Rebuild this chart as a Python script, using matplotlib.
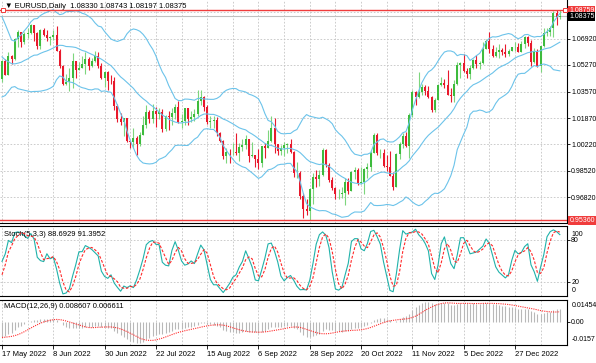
import numpy as np
import pandas as pd
import matplotlib
matplotlib.use('Agg')
import matplotlib.pyplot as plt

plt.rcParams['font.family'] = ['Liberation Sans', 'DejaVu Sans']
plt.rcParams['font.size'] = 5.5

# EURUSD daily, 17 May 2022 .. 16 Jan 2023
# bars before the first visible one, only used to warm up the indicators
warm_close = [1.1016, 1.1031, 1.1008, 1.0997, 1.0984, 1.0984, 1.1086, 1.1159, 1.1067,
              1.1046, 1.0972, 1.0903, 1.0902, 1.0877, 1.0876, 1.0885, 1.0828, 1.0889, 1.0826,
              1.0808, 1.0780, 1.0787, 1.0852, 1.0837, 1.0797, 1.0716, 1.0640, 1.0556, 1.0499,
              1.0545, 1.0507, 1.0525, 1.0620, 1.0541, 1.0550, 1.0560, 1.0530, 1.0512, 1.0379,
              1.0411, 1.0434]
warm_high = [1.0580, 1.0642, 1.0641, 1.0593, 1.0600, 1.0580, 1.0577, 1.0514, 1.0435, 1.0446]
warm_low = [1.0492, 1.0505, 1.0493, 1.0483, 1.0490, 1.0520, 1.0500, 1.0354, 1.0349, 1.0389]

open_ = [1.0437, 1.0553, 1.0464, 1.0586, 1.0562, 1.0690, 1.0734, 1.0676, 1.0726, 1.0733,
         1.0779, 1.0733, 1.0647, 1.0751, 1.0719, 1.0697, 1.0705, 1.0716, 1.0616, 1.0518,
         1.0408, 1.0420, 1.0446, 1.0549, 1.0494, 1.0510, 1.0533, 1.0567, 1.0522, 1.0554,
         1.0582, 1.0518, 1.0443, 1.0484, 1.0425, 1.0424, 1.0265, 1.0182, 1.0161, 1.0186,
         1.0038, 1.0037, 1.0063, 1.0019, 1.0080, 1.0143, 1.0225, 1.0180, 1.0230, 1.0212,
         1.0225, 1.0120, 1.0200, 1.0196, 1.0220, 1.0260, 1.0163, 1.0168, 1.0250, 1.0180,
         1.0196, 1.0212, 1.0297, 1.0322, 1.0260, 1.0160, 1.0170, 1.0177, 1.0090, 1.0038,
         0.9943, 0.9970, 0.9969, 0.9972, 0.9964, 1.0002, 1.0017, 1.0055, 0.9945, 0.9953,
         0.9925, 0.9900, 1.0007, 0.9997, 1.0042, 1.0121, 1.0019, 0.9980, 0.9999, 1.0016,
         1.0025, 0.9970, 0.9836, 0.9837, 0.9690, 0.9607, 0.9592, 0.9736, 0.9814, 0.9801,
         0.9827, 0.9986, 0.9889, 0.9792, 0.9739, 0.9703, 0.9705, 0.9707, 0.9777, 0.9722,
         0.9843, 0.9853, 0.9776, 0.9781, 0.9862, 0.9876, 0.9965, 1.0078, 0.9963, 0.9966,
         0.9882, 0.9878, 0.9820, 0.9749, 0.9960, 1.0020, 1.0074, 1.0010, 1.0209, 1.0355,
         1.0324, 1.0351, 1.0383, 1.0362, 1.0325, 1.0242, 1.0304, 1.0397, 1.0409, 1.0397,
         1.0337, 1.0331, 1.0406, 1.0523, 1.0537, 1.0489, 1.0468, 1.0507, 1.0556, 1.0532,
         1.0537, 1.0631, 1.0681, 1.0627, 1.0584, 1.0608, 1.0622, 1.0608, 1.0594, 1.0618,
         1.0638, 1.0640, 1.0612, 1.0660, 1.0705, 1.0665, 1.0548, 1.0607, 1.0521, 1.0645,
         1.0732, 1.0735, 1.0762, 1.0855, 1.0833]
high = [1.0559, 1.0564, 1.0606, 1.0591, 1.0697, 1.0748, 1.0737, 1.0734, 1.0765, 1.0787,
        1.0781, 1.0738, 1.0753, 1.0764, 1.0750, 1.0710, 1.0748, 1.0774, 1.0628, 1.0523,
        1.0469, 1.0506, 1.0601, 1.0552, 1.0547, 1.0582, 1.0606, 1.0580, 1.0569, 1.0615,
        1.0606, 1.0537, 1.0489, 1.0486, 1.0463, 1.0448, 1.0277, 1.0220, 1.0188, 1.0190,
        1.0048, 1.0121, 1.0070, 1.0096, 1.0201, 1.0273, 1.0237, 1.0278, 1.0258, 1.0254,
        1.0243, 1.0210, 1.0235, 1.0254, 1.0275, 1.0294, 1.0214, 1.0254, 1.0253, 1.0232,
        1.0248, 1.0368, 1.0364, 1.0330, 1.0268, 1.0200, 1.0202, 1.0192, 1.0096, 1.0046,
        0.9999, 0.9987, 1.0030, 1.0090, 1.0028, 1.0055, 1.0079, 1.0057, 1.0033, 0.9955,
        0.9988, 1.0012, 1.0030, 1.0112, 1.0198, 1.0187, 1.0020, 1.0017, 1.0037, 1.0028,
        1.0051, 0.9976, 0.9907, 0.9852, 0.9709, 0.9670, 0.9740, 0.9837, 0.9853, 0.9855,
        0.9999, 0.9991, 0.9899, 0.9811, 0.9748, 0.9733, 0.9745, 0.9808, 0.9808, 0.9850,
        0.9875, 0.9869, 0.9874, 0.9870, 0.9901, 0.9977, 1.0094, 1.0093, 0.9989, 0.9989,
        0.9954, 0.9976, 0.9845, 0.9966, 1.0033, 1.0094, 1.0097, 1.0222, 1.0364, 1.0362,
        1.0480, 1.0405, 1.0399, 1.0392, 1.0330, 1.0316, 1.0405, 1.0448, 1.0434, 1.0497,
        1.0380, 1.0428, 1.0544, 1.0546, 1.0595, 1.0509, 1.0529, 1.0564, 1.0589, 1.0553,
        1.0673, 1.0695, 1.0737, 1.0652, 1.0640, 1.0658, 1.0637, 1.0660, 1.0625, 1.0644,
        1.0671, 1.0665, 1.0679, 1.0714, 1.0712, 1.0683, 1.0634, 1.0625, 1.0647, 1.0760,
        1.0760, 1.0777, 1.0868, 1.0876, 1.0874]
low = [1.0420, 1.0460, 1.0463, 1.0531, 1.0556, 1.0640, 1.0642, 1.0663, 1.0700, 1.0722,
       1.0680, 1.0627, 1.0627, 1.0710, 1.0681, 1.0654, 1.0685, 1.0614, 1.0506, 1.0398,
       1.0398, 1.0359, 1.0382, 1.0444, 1.0492, 1.0508, 1.0470, 1.0496, 1.0511, 1.0545,
       1.0508, 1.0437, 1.0383, 1.0366, 1.0407, 1.0236, 1.0162, 1.0144, 1.0072, 1.0032,
       0.9998, 0.9998, 0.9952, 1.0007, 1.0078, 1.0124, 1.0153, 1.0154, 1.0130, 1.0180,
       1.0097, 1.0108, 1.0113, 1.0145, 1.0180, 1.0158, 1.0123, 1.0146, 1.0142, 1.0160,
       1.0169, 1.0202, 1.0272, 1.0235, 1.0150, 1.0122, 1.0123, 1.0073, 1.0034, 0.9926,
       0.9900, 0.9903, 0.9953, 0.9950, 0.9914, 0.9975, 0.9990, 0.9910, 0.9938, 0.9877,
       0.9864, 0.9875, 0.9930, 0.9995, 1.0032, 0.9967, 0.9955, 0.9955, 0.9945, 0.9966,
       0.9966, 0.9809, 0.9807, 0.9670, 0.9553, 0.9571, 0.9536, 0.9637, 0.9749, 0.9752,
       0.9816, 0.9874, 0.9780, 0.9730, 0.9670, 0.9670, 0.9676, 0.9632, 0.9705, 0.9720,
       0.9800, 0.9762, 0.9764, 0.9705, 0.9808, 0.9849, 0.9963, 0.9955, 0.9931, 0.9873,
       0.9852, 0.9818, 0.9730, 0.9746, 0.9928, 0.9997, 1.0001, 0.9935, 1.0193, 1.0271,
       1.0317, 1.0333, 1.0333, 1.0315, 1.0224, 1.0229, 1.0300, 1.0389, 1.0380, 1.0333,
       1.0289, 1.0290, 1.0398, 1.0445, 1.0483, 1.0443, 1.0437, 1.0500, 1.0510, 1.0502,
       1.0535, 1.0625, 1.0602, 1.0577, 1.0575, 1.0572, 1.0592, 1.0574, 1.0585, 1.0614,
       1.0613, 1.0609, 1.0609, 1.0633, 1.0650, 1.0520, 1.0541, 1.0512, 1.0483, 1.0644,
       1.0713, 1.0714, 1.0706, 1.0780, 1.0820]
close = [1.0553, 1.0464, 1.0586, 1.0562, 1.0690, 1.0734, 1.0676, 1.0726, 1.0733, 1.0779,
         1.0733, 1.0647, 1.0751, 1.0719, 1.0697, 1.0705, 1.0716, 1.0616, 1.0518, 1.0408,
         1.0420, 1.0446, 1.0549, 1.0494, 1.0510, 1.0533, 1.0567, 1.0522, 1.0554, 1.0582,
         1.0518, 1.0443, 1.0484, 1.0425, 1.0424, 1.0265, 1.0182, 1.0161, 1.0186, 1.0038,
         1.0037, 1.0063, 1.0019, 1.0080, 1.0143, 1.0225, 1.0180, 1.0230, 1.0212, 1.0225,
         1.0120, 1.0200, 1.0196, 1.0220, 1.0260, 1.0163, 1.0168, 1.0250, 1.0180, 1.0196,
         1.0212, 1.0297, 1.0322, 1.0260, 1.0160, 1.0170, 1.0177, 1.0090, 1.0038, 0.9943,
         0.9970, 0.9969, 0.9972, 0.9964, 1.0002, 1.0017, 1.0055, 0.9945, 0.9953, 0.9925,
         0.9900, 1.0007, 0.9997, 1.0042, 1.0121, 1.0019, 0.9980, 0.9999, 1.0016, 1.0025,
         0.9970, 0.9836, 0.9837, 0.9690, 0.9607, 0.9592, 0.9736, 0.9814, 0.9801, 0.9827,
         0.9986, 0.9889, 0.9792, 0.9739, 0.9703, 0.9705, 0.9707, 0.9777, 0.9722, 0.9843,
         0.9853, 0.9776, 0.9781, 0.9862, 0.9876, 0.9965, 1.0078, 0.9963, 0.9966, 0.9882,
         0.9878, 0.9820, 0.9749, 0.9960, 1.0020, 1.0074, 1.0010, 1.0209, 1.0355, 1.0324,
         1.0351, 1.0383, 1.0362, 1.0325, 1.0242, 1.0304, 1.0397, 1.0409, 1.0397, 1.0337,
         1.0331, 1.0406, 1.0523, 1.0537, 1.0489, 1.0468, 1.0507, 1.0556, 1.0532, 1.0537,
         1.0631, 1.0681, 1.0627, 1.0584, 1.0608, 1.0622, 1.0608, 1.0594, 1.0618, 1.0638,
         1.0640, 1.0612, 1.0660, 1.0705, 1.0665, 1.0548, 1.0607, 1.0521, 1.0645, 1.0732,
         1.0735, 1.0762, 1.0855, 1.0830, 1.0838]

date_ticks = [0, 16, 32, 48, 64, 80, 96, 112, 128, 144, 160]
date_labels = ['17 May 2022', '8 Jun 2022', '30 Jun 2022', '22 Jul 2022', '15 Aug 2022',
               '6 Sep 2022', '28 Sep 2022', '20 Oct 2022', '11 Nov 2022', '5 Dec 2022',
               '27 Dec 2022']
price_grid = [1.0862, 1.0692, 1.0527, 1.0357, 1.0187, 1.0022, 0.9852, 0.9682]
price_labels = ['1.06920', '1.05270', '1.03570', '1.01870', '1.00220', '0.98520', '0.96820']
hline_top, hline_bot, bid = 1.08759, 0.95360, 1.08375

# ---- indicators ----
nw = len(warm_close)
c_all = pd.Series(warm_close + close)
h_all = pd.Series(warm_close[:nw - len(warm_high)] + warm_high + high)
l_all = pd.Series(warm_close[:nw - len(warm_low)] + warm_low + low)

mid = c_all.rolling(20).mean()
sd = c_all.rolling(20).std(ddof=0)
bb_mid = mid.iloc[nw:].values
bb_up = (mid + 2 * sd).iloc[nw:].values
bb_dn = (mid - 2 * sd).iloc[nw:].values

ll = l_all.rolling(5).min()
hh = h_all.rolling(5).max()
st_k = (c_all - ll).rolling(3).sum() / (hh - ll).rolling(3).sum() * 100
st_d = st_k.rolling(3).mean()
st_k, st_d = st_k.iloc[nw:].values, st_d.iloc[nw:].values

macd = c_all.ewm(span=12, adjust=False).mean() - c_all.ewm(span=26, adjust=False).mean()
sig = macd.rolling(9).mean()
macd, sig = macd.iloc[nw:].values, sig.iloc[nw:].values

# ---- layout in pixels ----
W, H = 596, 363
fig = plt.figure(figsize=(W / 100, H / 100), dpi=100)
fig.patch.set_facecolor('white')


def px_axes(x0, y0, x1, y1):
    return fig.add_axes([x0 / W, 1 - y1 / H, (x1 - x0) / W, (y1 - y0) / H])


ax1 = px_axes(0, 0, 567, 223)
ax2 = px_axes(0, 226, 567, 296)
ax3 = px_axes(0, 300, 567, 345)

step = 3.206
xlim = (-2 / step, 565 / step)
grid_kw = dict(color='#c4c4c4', lw=0.6, ls=(0, (2, 2)), zorder=0)
vgrid = np.arange(0, 176, 8)
fs_r = 5.0  # right-hand scale labels

for ax in (ax1, ax2, ax3):
    ax.set_xlim(*xlim)
    for s in ax.spines.values():
        s.set_color('black')
        s.set_linewidth(0.8)
    ax.spines['left'].set_visible(False)
    for g in vgrid:
        ax.axvline(g, **grid_kw)
    ax.yaxis.tick_right()
    ax.tick_params(axis='y', length=2.5, width=0.6, pad=0.5, labelsize=fs_r)
    ax.tick_params(axis='x', bottom=False, labelbottom=False)
ax1.spines['top'].set_visible(False)

# ---- main chart ----
ax1.set_ylim(0.95180, 1.09408)
for p in price_grid:
    ax1.axhline(p, **grid_kw)
ax1.set_yticks(price_grid[1:])
ax1.set_yticklabels(price_labels)

x = np.arange(len(close))
o, h, l, c = map(np.array, (open_, high, low, close))
up = c >= o
col = np.where(up, '#3dbb3d', '#e8192c')
wick = np.where(up, '#7dd67d', '#e8192c')
ax1.vlines(x, l, h, colors=wick, lw=0.8, zorder=2)
ax1.bar(x, np.maximum(np.abs(c - o), 0.00025), bottom=np.minimum(o, c), width=0.62,
        color=col, lw=0, zorder=3)

for band in (bb_up, bb_mid, bb_dn):
    ax1.plot(x, band, color='#6cc3ea', lw=0.8, zorder=4)

ax1.axhline(hline_top, color='#f03c3c', lw=1.0, zorder=5)
ax1.axhline(hline_bot, color='#f03c3c', lw=1.0, zorder=5)
ax1.axhline(bid, color='#c0c0c0', lw=0.8, zorder=1)
ax1.plot([xlim[0] + 0.9, xlim[1] - 0.6], [hline_top, hline_top], ls='none', marker='s',
         ms=2.6, mfc='white', mec='#f03c3c', mew=0.7, zorder=6, clip_on=False)

lab_kw = dict(transform=ax1.get_yaxis_transform(), ha='left', va='center', color='white',
              fontsize=fs_r, clip_on=False, zorder=10)
ax1.text(1.004, hline_top, '1.08759', bbox=dict(fc='#f03c3c', ec='none', pad=0.6), **lab_kw)
ax1.text(1.004, bid, '1.08375', bbox=dict(fc='black', ec='none', pad=0.6), **lab_kw)
ax1.text(1.004, hline_bot, '0.95360', bbox=dict(fc='#f03c3c', ec='none', pad=0.6), **lab_kw)

ax1.text(5 / 567, 1 - 6 / 223, '\u25bc EURUSD,Daily  1.08330 1.08743 1.08197 1.08375',
         transform=ax1.transAxes, ha='left', va='center', fontsize=5.5)

# ---- stochastic ----
ax2.set_ylim(0, 100)
ax2.axhline(80, **grid_kw)
ax2.axhline(20, **grid_kw)
ax2.set_yticks([80, 20])
ax2.set_yticklabels(['80', '20'])
ax2.plot(x, st_k, color='#20b2aa', lw=0.8, zorder=3)
ax2.plot(x, st_d, color='#ff2a2a', lw=0.8, ls=(0, (2.5, 1.5)), zorder=4)
ax2.text(1.008, 100 - 8 / 0.7, '100', transform=ax2.get_yaxis_transform(), va='center',
         fontsize=fs_r, clip_on=False)
ax2.text(1.008, 5 / 0.7, '0', transform=ax2.get_yaxis_transform(), va='center',
         fontsize=fs_r, clip_on=False)
ax2.text(4 / 567, 1 - 9 / 70, 'Stoch(5,3,3) 88.6929 91.3952', transform=ax2.transAxes,
         ha='left', va='center', fontsize=5.5)

# ---- MACD ----
ax3.set_ylim(-0.0157, 0.01454)
ax3.vlines(x, 0, macd, colors='#b8b8b8', lw=0.8, zorder=2)
ax3.plot(x, sig, color='#ff2a2a', lw=0.8, ls=(0, (1, 1)), zorder=3)
ax3.set_yticks([0])
ax3.set_yticklabels(['0.00'])
ax3.text(1.008, 0.01454 - 5 / 1488, '0.01454', transform=ax3.get_yaxis_transform(),
         va='center', fontsize=fs_r, clip_on=False)
ax3.text(1.008, -0.0157 + 5 / 1488, '-0.0157', transform=ax3.get_yaxis_transform(),
         va='center', fontsize=fs_r, clip_on=False)
ax3.text(4 / 567, 1 - 6 / 45, 'MACD(12,26,9) 0.008607 0.006611', transform=ax3.transAxes,
         ha='left', va='center', fontsize=5.5)

ax3.tick_params(axis='x', bottom=True, labelbottom=True, length=3, width=0.6, pad=1,
                labelsize=5.5)
ax3.set_xticks(date_ticks)
ax3.set_xticklabels(date_labels, ha='left')

fig.savefig('out.png', dpi=100, facecolor='white')
